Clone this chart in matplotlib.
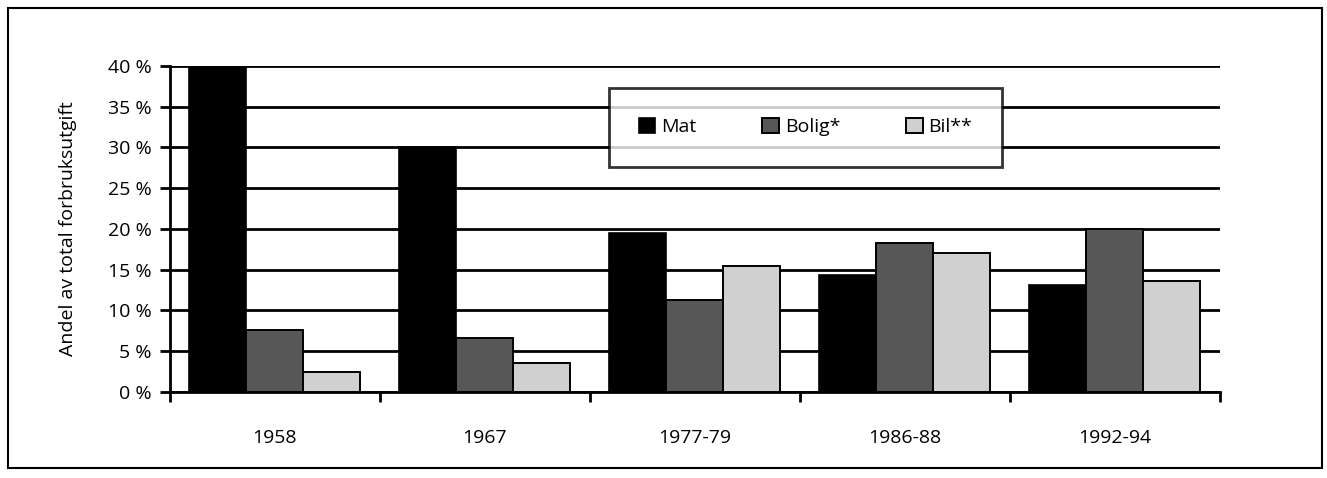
import matplotlib
matplotlib.use("Agg")
import matplotlib.pyplot as plt
from matplotlib.patches import Rectangle
import numpy as np

categories = ["1958", "1967", "1977-79", "1986-88", "1992-94"]
mat = [40.0, 30.0, 19.5, 14.4, 13.1]
bolig = [7.6, 6.6, 11.3, 18.3, 20.0]
bil = [2.4, 3.6, 15.5, 17.1, 13.6]
series_names = ["Mat", "Bolig*", "Bil**"]
yticks = [0, 5, 10, 15, 20, 25, 30, 35, 40]
ylabel = "Andel av total forbruksutgift"

plt.rcParams['font.family'] = ['Open Sans', 'DejaVu Sans']

fig = plt.figure(figsize=(13.27, 4.78), dpi=100)
ax = fig.add_axes([0.128, 0.180, 0.791, 0.682])

x = np.arange(len(categories))
w = 0.272
ax.bar(x - w, mat, w, color='black', edgecolor='black', linewidth=1.2, label=series_names[0], zorder=3)
ax.bar(x, bolig, w, color='#575757', edgecolor='black', linewidth=1.4, label=series_names[1], zorder=3)
ax.bar(x + w, bil, w, color='#d0d0d0', edgecolor='black', linewidth=1.4, label=series_names[2], zorder=3)

ax.set_xlim(-0.5, len(categories) - 0.5)
ax.set_ylim(0, 40)
ax.set_yticks(yticks)
ax.set_yticklabels([f"{v} %" for v in yticks])
ax.yaxis.grid(True, color='black', linewidth=2, zorder=0)
ax.set_axisbelow(True)

ax.set_xticks(x)
ax.set_xticklabels(categories)
ax.set_xticks(np.arange(len(categories) + 1) - 0.5, minor=True)
ax.tick_params(axis='x', which='major', length=0, pad=27, labelsize=14)
ax.tick_params(axis='x', which='minor', length=7, width=2, direction='out')
ax.tick_params(axis='y', length=7, width=2, direction='out', pad=6, labelsize=14)

for s in ['top', 'right']:
    ax.spines[s].set_visible(False)
ax.spines['left'].set_linewidth(2)
ax.spines['bottom'].set_linewidth(2)

ax.set_ylabel(ylabel, fontsize=14, labelpad=22)

leg = ax.legend(loc='center', bbox_to_anchor=(0.607, 0.734), bbox_transform=fig.transFigure,
                ncol=3, frameon=True, fancybox=False, fontsize=14, handlelength=0.85,
                handleheight=0.85, handletextpad=0.3, columnspacing=3.4,
                borderpad=1.55, borderaxespad=0)
leg.get_frame().set_edgecolor('black')
leg.get_frame().set_linewidth(2)
leg.set_zorder(5)

fig.patches.append(Rectangle((0.006, 0.021), 0.990, 0.962, transform=fig.transFigure,
                             fill=False, edgecolor='black', linewidth=1.5))

fig.savefig("out.png", dpi=100)
